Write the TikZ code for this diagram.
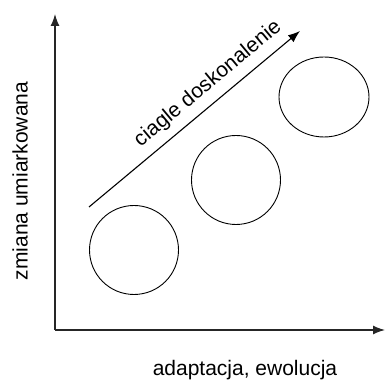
\documentclass[tikz,border=0pt]{standalone}
\usepackage{fontspec}
\setmainfont{Liberation Sans}
\usetikzlibrary{arrows.meta,positioning,shapes.geometric}

\begin{document}
\begin{tikzpicture}[x=1pt, y=1pt,
  axis/.style={-{Latex[length=12pt, width=9pt]}, line width=1.3pt, black!85},
  arr/.style={-{Latex[length=12pt, width=9pt]}, line width=1.1pt},
  blob/.style={draw, circle, line width=0.9pt, minimum size=89pt, inner sep=0pt},
  oval/.style={draw, ellipse, line width=0.9pt, minimum width=90pt, minimum height=80pt, inner sep=0pt},
  label/.style={font=\fontsize{21}{25}\selectfont, inner sep=0pt}
]
\useasboundingbox (0,0) rectangle (386,385);

% axes
\coordinate (origin) at (55,55);
\coordinate (ytop) at (55,371);
\coordinate (xend) at (385,55);
\draw[axis] (origin) -- (ytop);
\draw[axis] (origin) -- (xend);

\node[label] (xlab) at (245,15) {adaptacja, ewolucja};
\node[label, rotate=90] (ylab) at (20,204) {zmiana umiarkowana};

% stages
\node[blob] (s1) at (134,135) {};
\node[blob] (s2) at (236,205) {};
\node[oval] (s3) at (324,288) {};

% improvement arrow
\coordinate (from) at (89,178);
\coordinate (to) at (300,354);
\draw[arr] (from) -- node[label, sloped, pos=0.62, above=8pt] (trend) {ciagle doskonalenie} (to);

\end{tikzpicture}
\end{document}
